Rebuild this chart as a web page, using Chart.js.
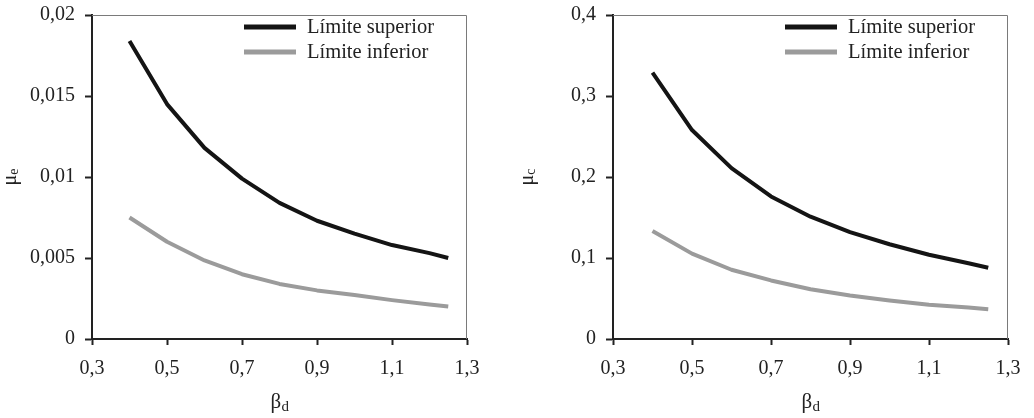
<!DOCTYPE html>
<html><head><meta charset="utf-8">
<script src="https://cdn.jsdelivr.net/npm/chart.js@4.4.0/dist/chart.umd.min.js"></script>
<style>
html,body{margin:0;padding:0;background:#fff;width:1034px;height:418px;overflow:hidden}
.box{position:absolute;top:0;height:418px;width:517px}
#b1{left:0}
#b2{left:517px}
</style></head><body>
<div class="box" id="b1"><canvas id="c1"></canvas></div>
<div class="box" id="b2"><canvas id="c2"></canvas></div>
<script>
const betaD = [0.4,0.5,0.6,0.7,0.8,0.9,1.0,1.1,1.2,1.25];
const muESup = [0.0184,0.0145,0.0118,0.0099,0.0084,0.0073,0.0065,0.0058,0.0053,0.0050];
const muEInf = [0.0075,0.0060,0.00485,0.0040,0.0034,0.0030,0.00272,0.0024,0.00213,0.0020];
const muCSup = [0.329,0.258,0.211,0.176,0.151,0.132,0.117,0.104,0.0935,0.088];
const muCInf = [0.1334,0.1054,0.0855,0.0723,0.0615,0.0537,0.0475,0.0422,0.0388,0.0367];
const xTicks = [0.3,0.5,0.7,0.9,1.1,1.3];
const yTicksE = [0,0.005,0.01,0.015,0.02];
const yTicksC = [0,0.1,0.2,0.3,0.4];
const seriesLabels = ['Límite superior','Límite inferior'];
const seriesColors = ['#141414','#9b9b9b'];

const FONT = "'Liberation Serif','Times New Roman',serif";
Chart.defaults.font.family = FONT;
Chart.defaults.font.size = 20;
Chart.defaults.color = '#222';

const fmt = v => String(v).replace('.', ',');

function decoPlugin(ySub) {
  return {
    id: 'deco',
    afterDatasetsDraw(chart) {
      const ctx = chart.ctx, a = chart.chartArea;
      ctx.save();
      // thin top/right frame
      ctx.strokeStyle = '#7a7a7a';
      ctx.lineWidth = 1;
      ctx.beginPath();
      ctx.moveTo(a.left, a.top + 0.5);
      ctx.lineTo(a.right - 0.5, a.top + 0.5);
      ctx.lineTo(a.right - 0.5, a.bottom);
      ctx.stroke();
      // legend
      chart.data.datasets.forEach((ds, i) => {
        const y = a.top + 12 + i * 25;
        ctx.strokeStyle = ds.borderColor;
        ctx.lineWidth = 5;
        ctx.beginPath();
        ctx.moveTo(a.right - 223, y);
        ctx.lineTo(a.right - 171, y);
        ctx.stroke();
        ctx.fillStyle = '#222';
        ctx.font = '20.5px ' + FONT;
        ctx.textBaseline = 'middle';
        ctx.textAlign = 'left';
        ctx.fillText(ds.label, a.right - 160, y + 1);
      });
      // x title: beta_d
      ctx.fillStyle = '#222';
      ctx.textBaseline = 'alphabetic';
      ctx.font = '21px ' + FONT;
      const wb = ctx.measureText('β').width;
      ctx.font = '15px ' + FONT;
      const wd = ctx.measureText('d').width;
      let x0 = (a.left + a.right) / 2 - (wb + wd) / 2;
      ctx.font = '21px ' + FONT;
      ctx.fillText('β', x0, 408);
      ctx.font = '15px ' + FONT;
      ctx.fillText('d', x0 + wb + 0.5, 411);
      // y title: mu_sub
      ctx.translate(16, (a.top + a.bottom) / 2);
      ctx.rotate(-Math.PI / 2);
      ctx.font = '20px ' + FONT;
      const wm = ctx.measureText('μ').width;
      ctx.font = '14px ' + FONT;
      const ws = ctx.measureText(ySub).width;
      const s = -(wm + ws) / 2;
      ctx.font = '20px ' + FONT;
      ctx.fillText('μ', s, 0);
      ctx.font = '14px ' + FONT;
      ctx.fillText(ySub, s + wm, 2);
      ctx.restore();
    }
  };
}

function makeChart(id, sup, inf, yTicks, yMax, yWidth, padRight, ySub) {
  return new Chart(document.getElementById(id), {
    type: 'line',
    data: {
      datasets: [
        { label: seriesLabels[0], data: betaD.map((x, i) => ({x, y: sup[i]})), borderColor: seriesColors[0], backgroundColor: seriesColors[0], borderWidth: 4, pointRadius: 0, tension: 0, borderCapStyle: 'butt', borderJoinStyle: 'round' },
        { label: seriesLabels[1], data: betaD.map((x, i) => ({x, y: inf[i]})), borderColor: seriesColors[1], backgroundColor: seriesColors[1], borderWidth: 4, pointRadius: 0, tension: 0, borderCapStyle: 'butt', borderJoinStyle: 'round' }
      ]
    },
    options: {
      responsive: true,
      maintainAspectRatio: false,
      animation: false,
      layout: { padding: { top: 15, right: padRight, left: 0, bottom: 0 } },
      plugins: { legend: { display: false }, tooltip: { enabled: false } },
      scales: {
        x: {
          type: 'linear', min: 0.3, max: 1.3,
          afterBuildTicks: s => { s.ticks = xTicks.map(v => ({ value: v })); },
          afterFit: s => { s.height = 79; s.paddingLeft = 0; s.paddingRight = 0; },
          ticks: { callback: v => fmt(v), padding: 12, maxRotation: 0, autoSkip: false },
          grid: { drawOnChartArea: false, drawTicks: true, tickLength: 6, tickColor: '#222', tickWidth: 2 },
          border: { display: true, color: '#222', width: 2 }
        },
        y: {
          type: 'linear', min: 0, max: yMax,
          afterBuildTicks: s => { s.ticks = yTicks.map(v => ({ value: v })); },
          afterFit: s => { s.width = yWidth; s.paddingTop = 0; s.paddingBottom = 0; },
          ticks: { callback: v => fmt(v), padding: 10, autoSkip: false },
          grid: { drawOnChartArea: false, drawTicks: true, tickLength: 7, tickColor: '#222', tickWidth: 2 },
          border: { display: true, color: '#222', width: 2 }
        }
      }
    },
    plugins: [decoPlugin(ySub)]
  });
}

makeChart('c1', muESup, muEInf, yTicksE, 0.02, 92, 50, 'e');
makeChart('c2', muCSup, muCInf, yTicksC, 0.4, 96, 26, 'c');
</script>
</body></html>
